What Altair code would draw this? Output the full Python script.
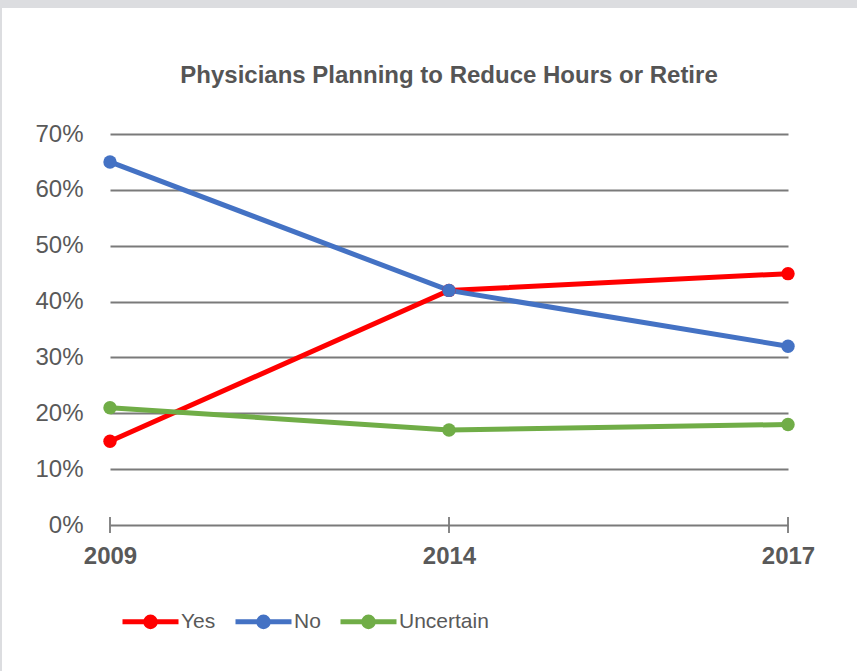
import altair as alt
import pandas as pd

years = ["2009", "2014", "2017"]
series = ["Yes", "No", "Uncertain"]
yes_vals = [0.15, 0.42, 0.45]
no_vals = [0.65, 0.42, 0.32]
uncertain_vals = [0.21, 0.17, 0.18]
colors = ["#ff0000", "#4472c4", "#70ad47"]
y_ticks = [0.0, 0.1, 0.2, 0.3, 0.4, 0.5, 0.6, 0.7]
title_text = "Physicians Planning to Reduce Hours or Retire"

rows = []
for name, vals in zip(series, [yes_vals, no_vals, uncertain_vals]):
    for yr, v in zip(years, vals):
        rows.append({"year": yr, "value": v, "series": name})
df = pd.DataFrame(rows)

W, H = 678, 391
PAD_L, PAD_T, PAD_R, PAD_B = 110, 134, 69, 146
FONT = "Liberation Sans, Arial, sans-serif"
TXT = "#595959"
GRID = "#7a7a7a"

x_scale = alt.Scale(type="point", padding=0)
x_axis = alt.Axis(title=None, domain=False, ticks=False, labelAngle=0,
                  labelAlign="center", labelFlush=False,
                  labelFont=FONT, labelFontSize=24, labelFontWeight="bold",
                  labelColor=TXT, labelPadding=19)
x_enc = alt.X("year:O", scale=x_scale, sort=years, axis=x_axis)
y_enc = alt.Y("value:Q", scale=alt.Scale(domain=[0, 0.7], nice=False),
              axis=alt.Axis(title=None, values=y_ticks, format=".0%", domain=False,
                            ticks=False, grid=True, gridColor=GRID, gridWidth=1.8,
                            labelFont=FONT, labelFontSize=24, labelColor=TXT,
                            labelPadding=27))

legend_symbol = "M-1,0L1,0M-0.17,0A0.17,0.17,0,1,0,0.17,0A0.17,0.17,0,1,0,-0.17,0Z"
color_enc = alt.Color("series:N", scale=alt.Scale(domain=series, range=colors),
                      legend=alt.Legend(title=None, orient="none", direction="horizontal",
                                        legendX=10, legendY=457,
                                        symbolType=legend_symbol, symbolSize=3136,
                                        symbolStrokeWidth=5, labelFont=FONT,
                                        labelFontSize=21, labelColor=TXT,
                                        labelOffset=0, columnPadding=9))

frame_df = pd.DataFrame({"k": [0]})
frame_top = alt.Chart(frame_df).mark_rect(color="#dcdde0").encode(
    x=alt.value(-PAD_L), x2=alt.value(W + PAD_R),
    y=alt.value(-PAD_T), y2=alt.value(-PAD_T + 8))
frame_left = alt.Chart(frame_df).mark_rect(color="#dcdde0").encode(
    x=alt.value(-PAD_L), x2=alt.value(-PAD_L + 2),
    y=alt.value(-PAD_T), y2=alt.value(H + PAD_B))

tick_df = pd.DataFrame({"year": years})
ticks = alt.Chart(tick_df).mark_rule(color=GRID, strokeWidth=1.8).encode(
    x=x_enc, y=alt.value(H - 8), y2=alt.value(H + 8))

lines = alt.Chart(df).mark_line(strokeWidth=5).encode(x=x_enc, y=y_enc, color=color_enc)
points = alt.Chart(df).mark_point(filled=True, size=180, opacity=1).encode(
    x=x_enc, y=y_enc, color=color_enc)

chart = alt.layer(frame_top, frame_left, ticks, lines, points).properties(
    width=W, height=H,
    padding={"left": PAD_L, "top": PAD_T, "right": PAD_R, "bottom": PAD_B},
    autosize=alt.AutoSizeParams(type="none"),
    title=alt.TitleParams(title_text, font=FONT, fontSize=24, fontWeight="bold",
                          color="#555555", anchor="middle", frame="group", offset=10, dy=98),
    background="white",
).configure_view(stroke=None)

chart.save("out.html", embed_options={"renderer": "svg", "actions": False})
